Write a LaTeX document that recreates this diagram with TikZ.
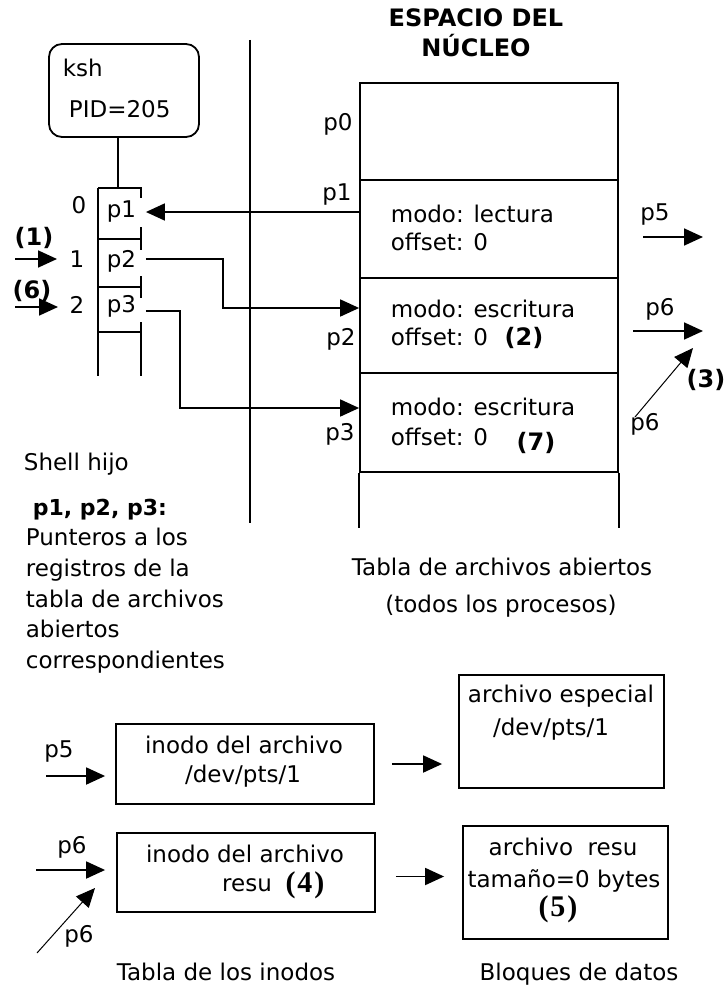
\documentclass[tikz,border=0pt]{standalone}
\usepackage{fontspec}
\setmainfont{DejaVu Sans}
\newfontfamily\serifbold{Liberation Serif}
\usetikzlibrary{arrows.meta,calc}
\begin{document}
\begin{tikzpicture}[x=1pt,y=-1pt,line width=1.8pt,
  arr/.style={-{Triangle[length=19pt,width=17pt]}},
  thinarr/.style={line width=1pt,-{Triangle[length=19pt,width=17pt]}},
  lbl/.style={inner sep=0pt,text height=15pt,text depth=4pt,font=\fontsize{23}{30}\selectfont},
  blbl/.style={inner sep=0pt,text height=15pt,text depth=4pt,font=\fontsize{24}{30}\selectfont\bfseries},
  plbl/.style={inner sep=0pt,text height=15pt,text depth=4pt,font=\fontsize{22}{30}\selectfont\bfseries},
  slbl/.style={inner sep=0pt,text height=17pt,text depth=5pt,font=\serifbold\bfseries\fontsize{30}{34}\selectfont},
  box/.style={draw,inner sep=0pt},
  fd/.style={lbl,minimum width=47pt}]
\useasboundingbox (0,0) rectangle (724,987);
\fill[white] (0,0) rectangle (724,987);

% title
\node[blbl,align=center,text height=,text depth=] (title) at (476,33) {ESPACIO DEL\\NÚCLEO};

% divider
\coordinate (divtop) at (250,40);
\coordinate (divbot) at (250,523);
\draw (divtop) -- (divbot);

% ksh box
\node[draw,rounded corners=13pt,minimum width=150pt,minimum height=93pt,inner sep=0pt] (ksh) at (124,90.5) {};
\node[lbl,anchor=west] (kshname) at (62,71) {ksh};
\node[lbl,anchor=west] (pid) at (68,112) {PID=205};
\coordinate (fdtop) at (118,188);
\draw (ksh.south -| fdtop) -- (fdtop);

% descriptor column
\draw (98,188) -- (98,376);
\draw (98,188) -- (141,188) -- (141,198);
\draw (98,239) -- (141,239); \draw (141,227) -- (141,250);
\draw (98,287) -- (141,287); \draw (141,276) -- (141,298);
\draw (98,332) -- (141,332); \draw (141,322) -- (141,376);
\node[fd] (fp1) at (121.5,212) {p1};
\node[fd] (fp2) at (121.5,262) {p2};
\node[fd] (fp3) at (121.5,307) {p3};
\node[lbl] (n0) at (79,208) {0};
\node[lbl] (n1) at (77,262) {1};
\node[lbl] (n2) at (77,308) {2};
\node[blbl] (m1) at (34,240) {(1)};
\node[blbl] (m6) at (32,293) {(6)};
\coordinate (a1s) at (15,259); \coordinate (a1e) at (57,259);
\coordinate (a6s) at (15,307); \coordinate (a6e) at (58,307);
\draw[arr] (a1s) -- (a1e);
\draw[arr] (a6s) -- (a6e);

% open file table
\node[box,minimum width=258pt,minimum height=97pt] (row0) at (489,131.5) {};
\node[box,minimum width=258pt,minimum height=98pt] (row1) at (489,229) {};
\node[box,minimum width=258pt,minimum height=95pt] (row2) at (489,325.5) {};
\node[box,minimum width=258pt,minimum height=99pt] (row3) at (489,422.5) {};
\draw (row3.south west) -- ++(0,55);
\draw (row3.south east) -- ++(0,55);

\node[lbl] (lp0) at (338,125) {p0};
\node[lbl] (lp1) at (337,195) {p1};
\node[lbl] (lp2) at (341,340) {p2};
\node[lbl] (lp3) at (340,435) {p3};

\node[lbl,anchor=west] (t1a) at (390,217) {modo: lectura};
\node[lbl,anchor=west] (t1b) at (390,245) {offset: 0};
\node[lbl,anchor=west] (t2a) at (390,312) {modo: escritura};
\node[lbl,anchor=west] (t2b) at (390,340) {offset: 0};
\node[blbl] (m2) at (524,340) {(2)};
\node[lbl,anchor=west] (t3a) at (390,410) {modo: escritura};
\node[lbl,anchor=west] (t3b) at (390,440) {offset: 0};
\node[blbl] (m7) at (536,445) {(7)};

% pointers
\draw[arr] (row1.west |- fp1) -- (fp1.east);
\coordinate (c2) at (223,308);
\draw[arr] ([yshift=3pt]fp2.east) -| (c2) -- (row2.west |- c2);
\coordinate (c3) at (180,408);
\draw[arr] ([yshift=-4pt]fp3.east) -| (c3) -- (row3.west |- c3);

% right side of table
\node[lbl] (rp5) at (655,215) {p5};
\coordinate (p5s) at (643,237); \coordinate (p5e) at (703,237);
\draw[arr] (p5s) -- (p5e);
\node[lbl] (rp6) at (660,310) {p6};
\coordinate (p6s) at (633,331); \coordinate (p6e) at (703,331);
\draw[arr] (p6s) -- (p6e);
\coordinate (d1s) at (635,417); \coordinate (d1e) at (693,348);
\draw[thinarr] (d1s) -- (d1e);
\node[lbl] (rp6b) at (645,425) {p6};
\node[blbl] (m3) at (706,382) {(3)};

% captions middle
\node[lbl] (cap1) at (502,570) {Tabla de archivos abiertos};
\node[lbl] (cap2) at (501,607) {(todos los procesos)};

% left texts
\node[lbl,anchor=west] (sh) at (23,465) {Shell hijo};
\node[plbl,anchor=west] (pp) at (32,510) {p1, p2, p3:};
\node[lbl,anchor=west] (l1) at (25,540) {Punteros a los};
\node[lbl,anchor=west] (l2) at (25,571) {registros de la};
\node[lbl,anchor=west] (l3) at (25,602) {tabla de archivos};
\node[lbl,anchor=west] (l4) at (25,632) {abiertos};
\node[lbl,anchor=west] (l5) at (25,663) {correspondientes};

% bottom boxes
\node[box,minimum width=258pt,minimum height=80pt] (ino1) at (245,764) {};
\node[box,minimum width=258pt,minimum height=79pt] (ino2) at (246,872.5) {};
\node[box,minimum width=205pt,minimum height=113pt] (spec) at (561.5,731.5) {};
\node[box,minimum width=205pt,minimum height=113pt] (resu) at (565.5,882.5) {};

\node[lbl] (i1a) at (244,748) {inodo del archivo};
\node[lbl] (i1b) at (243,777) {/dev/pts/1};
\node[lbl] (i2a) at (245,857) {inodo del archivo};
\node[lbl] (i2b) at (247,886) {resu};
\node[slbl] (m4) at (305,886) {(\kern2pt4\kern2pt)};
\node[lbl] (s1) at (561,697) {archivo especial};
\node[lbl] (s2) at (551,730) {/dev/pts/1};
\node[lbl] (r1) at (563,850) {archivo\ \ resu};
\node[lbl] (r2) at (564,882) {tamaño=0 bytes};
\node[slbl] (m5) at (558,910) {(\kern2pt5\kern2pt)};

\draw[arr] ([xshift=17pt]ino1.east) -- ([xshift=-16pt]ino1.east -| spec.west);
\draw[arr] ([xshift=20pt,yshift=-4pt]ino2.east) -- ([xshift=-18pt,yshift=-4pt]ino2.east -| resu.west);

\node[lbl] (bp5) at (59,752) {p5};
\coordinate (b5s) at (46,776);
\draw[arr] (b5s) -- ([xshift=-10pt]ino1.west |- b5s);
\node[lbl] (bp6) at (72,848) {p6};
\coordinate (b6s) at (36,870);
\draw[arr] (b6s) -- ([xshift=-11pt]ino2.west |- b6s);
\coordinate (b6ds) at (37,953); \coordinate (b6de) at (95,888);
\draw[thinarr] (b6ds) -- (b6de);
\node[lbl] (bp6b) at (79,937) {p6};

\node[lbl] (cap3) at (226,975) {Tabla de los inodos};
\node[lbl] (cap4) at (579,975) {Bloques de datos};
\end{tikzpicture}
\end{document}
